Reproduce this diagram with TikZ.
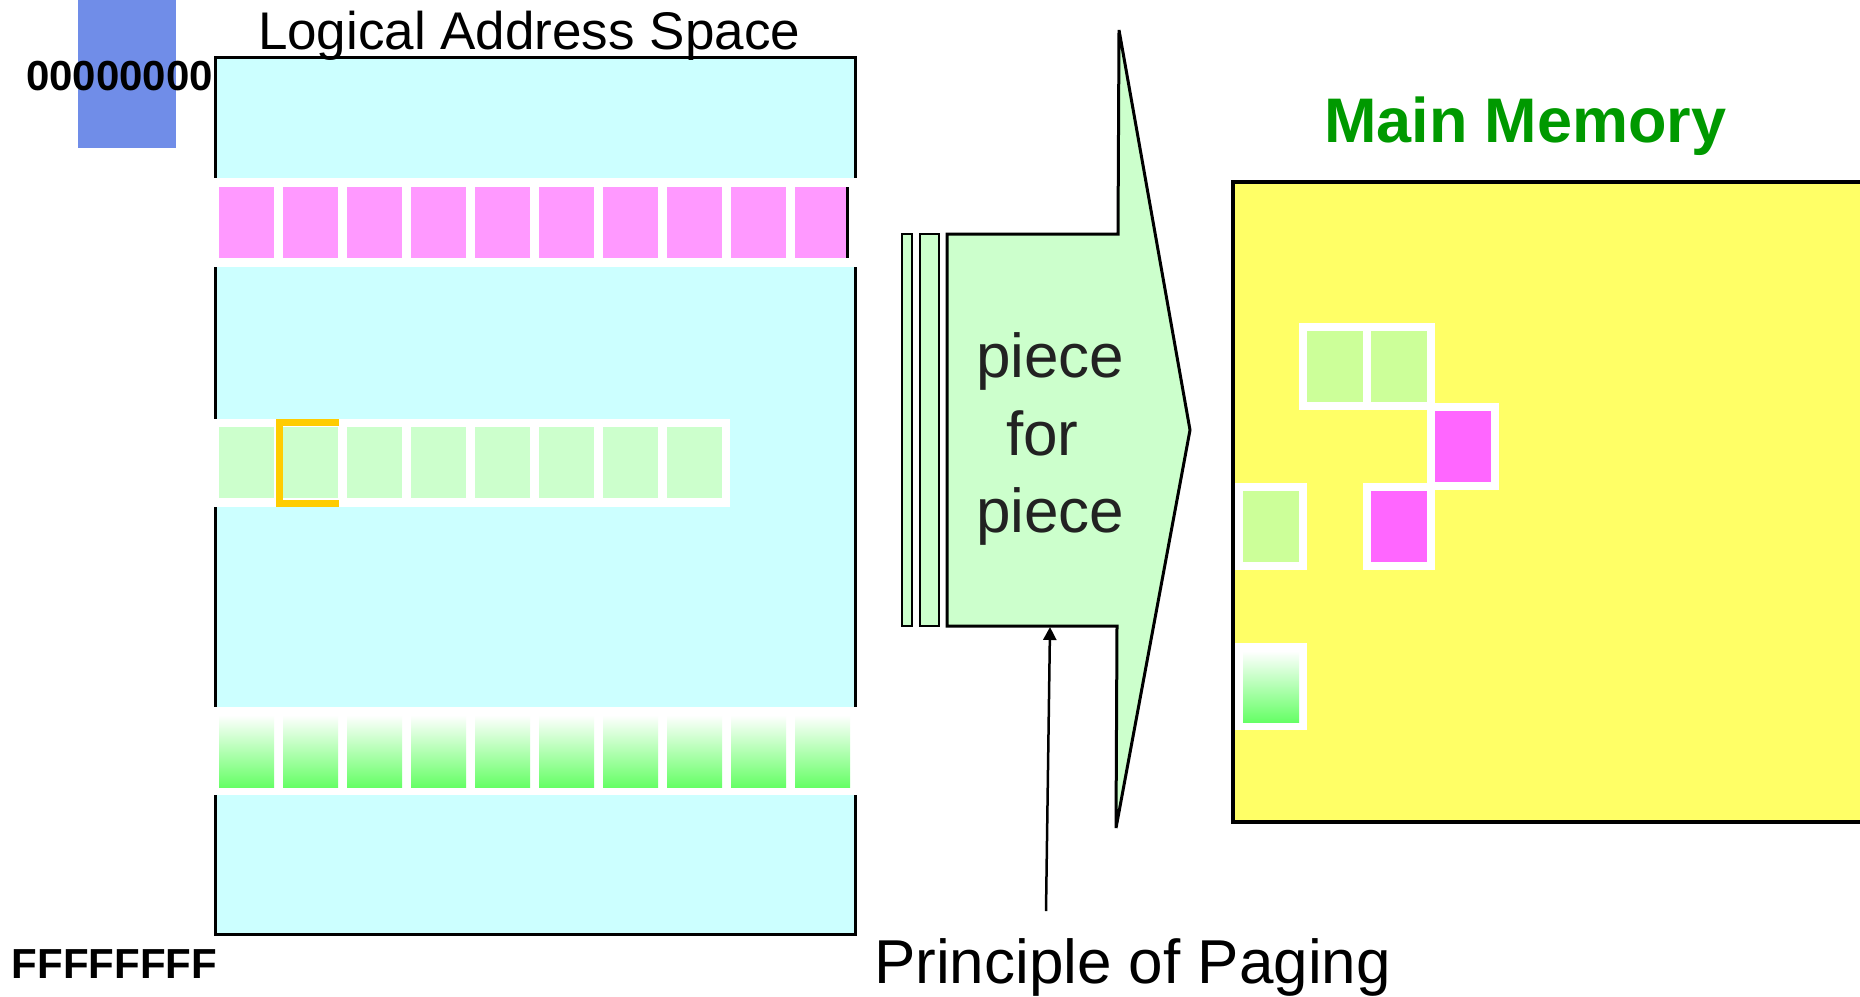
\documentclass[tikz,border=0pt]{standalone}
\usepackage{fontspec}
\setmainfont{Liberation Sans}
\usetikzlibrary{arrows.meta}
\definecolor{cyanbg}{RGB}{204,255,255}
\definecolor{pinkpage}{RGB}{255,153,255}
\definecolor{greenpage}{RGB}{204,255,204}
\definecolor{memgreen}{RGB}{204,255,153}
\definecolor{mempink}{RGB}{255,102,255}
\definecolor{memyellow}{RGB}{255,255,102}
\definecolor{markblue}{RGB}{112,141,232}
\definecolor{gradgreen}{RGB}{102,255,102}
\definecolor{frameorange}{RGB}{255,204,0}
\definecolor{titlegreen}{RGB}{0,153,0}
\definecolor{textdark}{RGB}{34,34,34}
\begin{document}
\begin{tikzpicture}[x=1pt,y=-1pt,
  label/.style={inner sep=0pt,outer sep=0pt,anchor=base west},
  hexlabel/.style={label,font=\fontsize{42}{42}\selectfont\bfseries},
  band/.style={fill=white},
  outline/.style={draw=black,line width=3pt,line join=miter},
  pointer/.style={draw=black,line width=2.5pt,-{Triangle[width=13pt,length=13pt]}}]
\useasboundingbox (0,0) rectangle (1860,996);

% address marker behind the start address
\fill[markblue] (78,0) rectangle (176,148);

% logical address space
\filldraw[fill=cyanbg,draw=black,line width=3pt] (215,57) rectangle (855,934);

% first run of pages
\fill[band] (212,178) rectangle (858,267);
\foreach \k in {0,...,8} \fill[pinkpage] ({219+64*\k},187) rectangle +(55,71);
\fill[pinkpage] (795,187) rectangle (847,258);
\draw[line width=3pt] (847,187) -- (847,258);

% second run of pages, one of them marked
\fill[band] (212,419) rectangle (730,507);
\foreach \k in {0,...,7} \fill[greenpage] ({219+64*\k},427) rectangle +(55,71);
\draw[frameorange,line width=7pt] (339,422) -- (279,422) -- (279,503) -- (339,503);

% third run of pages
\fill[band] (212,707) rectangle (858,795);
\foreach \k in {0,...,9} \shade[top color=white,bottom color=gradgreen] ({219+64*\k},715) rectangle +(55,72);

% address labels
\node[hexlabel] (start) at (26,90) {00000000};
\node[hexlabel] (end) at (12,978) {FFFFFFFF};
\node[label,font=\fontsize{53}{53}\selectfont] (lastitle) at (258,49) {Logical Address Space};

% paging arrow with its trailing strips
\filldraw[fill=greenpage,draw=black,line width=2.5pt] (902,234) rectangle (912,626);
\filldraw[fill=greenpage,draw=black,line width=2.5pt] (920,234) rectangle (939,626);
\filldraw[fill=greenpage,outline] (947,234) -- (1118,234) -- (1119,30) -- (1190,430)
  -- (1116,828) -- (1117,626) -- (947,626) -- cycle;
\coordinate (bodybottom) at (1050,627);
\node[label,font=\fontsize{62}{62}\selectfont,text=textdark] (p1) at (976,377) {piece};
\node[label,font=\fontsize{62}{62}\selectfont,text=textdark] (p2) at (1006,455) {for};
\node[label,font=\fontsize{62}{62}\selectfont,text=textdark] (p3) at (976,532) {piece};

% main memory
\fill[memyellow] (1233,182) rectangle (1860,822);
\draw[line width=4pt] (1860,182) -- (1233,182) -- (1233,822) -- (1860,822);
\node[label,font=\fontsize{63}{63}\selectfont\bfseries,text=titlegreen] (memtitle) at (1324,142) {Main Memory};

% frames of the page frames in memory
\foreach \x/\y in {1307/331,1371/331,1435/411,1243/491,1371/491,1243/651}
  \fill[white] ({\x-8},{\y-8}) rectangle +(72,87);
\fill[memgreen] (1307,331) rectangle +(56,71);
\fill[memgreen] (1371,331) rectangle +(56,71);
\fill[mempink] (1435,411) rectangle +(56,71);
\fill[memgreen] (1243,491) rectangle +(56,71);
\fill[mempink] (1371,491) rectangle +(56,71);
\shade[top color=white,bottom color=gradgreen] (1243,651) rectangle +(56,71);

% caption and its pointer
\coordinate (ptrfoot) at (1046,911);
\draw[pointer] (ptrfoot) -- (bodybottom);
\node[label,font=\fontsize{62}{62}\selectfont] (caption) at (874,983) {Principle of Paging};
\end{tikzpicture}
\end{document}
